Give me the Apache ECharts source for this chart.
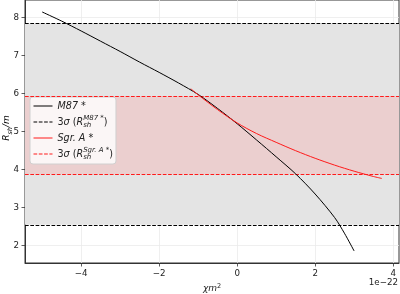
<!DOCTYPE html>
<html><head><meta charset="utf-8">
<script src="https://cdn.jsdelivr.net/npm/echarts@6/dist/echarts.min.js"></script>
<style>html,body{margin:0;padding:0;background:#fff}#c{width:400px;height:294px}</style>
</head><body><div id="c"></div>
<script>
// x values in units of 1e-22
const xTicks = [-4, -2, 0, 2, 4];
const yTicks = [2, 3, 4, 5, 6, 7, 8];
const m87X = [-5.0, -4.5, -4.0, -3.5, -3.0, -2.5, -2.0, -1.5, -1.0, -0.5, 0, 0.5, 1.0, 1.5, 2.0, 2.5, 2.75, 3.0];
const m87Y = [8.14, 7.90, 7.64, 7.37, 7.10, 6.82, 6.55, 6.27, 5.97, 5.60, 5.20, 4.77, 4.33, 3.88, 3.35, 2.73, 2.32, 1.85];
const sgrX = [-1.19, -1.0, -0.5, 0, 0.5, 1.0, 1.5, 2.0, 2.5, 3.0, 3.5, 3.71];
const sgrY = [6.12, 5.96, 5.57, 5.22, 4.94, 4.71, 4.49, 4.29, 4.11, 3.95, 3.81, 3.76];
const m87Band = [2.54, 7.84];
const sgrBand = [3.87, 5.92];
const xRange = [-5.44, 4.15];
const yRange = [1.535, 8.455];
const xExponent = '1e\u221222';

const FONT = 'DejaVu Sans';
const TXT = '#222';
const fmtMinus = v => String(v).replace('-', '\u2212');
const zip = (a, b) => a.map((v, i) => [v, b[i]]);

const richLegend = {
  i: {fontFamily: FONT, fontStyle: 'italic', fontSize: 9.6, lineHeight: 14, color: TXT},
  n: {fontFamily: FONT, fontSize: 9.6, lineHeight: 14, color: TXT},
  sub: {fontFamily: FONT, fontStyle: 'italic', fontSize: 7, lineHeight: 7, verticalAlign: 'bottom', width: 0, color: TXT},
  sup: {fontFamily: FONT, fontStyle: 'italic', fontSize: 7, lineHeight: 7, verticalAlign: 'top', color: TXT}
};
const legendText = {
  'M87*': '{i|M87 *}',
  'M87 3σ': '{n|3}{i|σ}{n| (}{i|R}{sub|sh}{sup|M87 *}{n|)}',
  'Sgr. A*': '{i|Sgr. A *}',
  'Sgr 3σ': '{n|3}{i|σ}{n| (}{i|R}{sub|sh}{sup|Sgr. A *}{n|)}'
};

const chart = echarts.init(document.getElementById('c'), null, {renderer: 'canvas'});
chart.setOption({
  animation: false,
  grid: {left: 25, right: 1, top: 0, bottom: 31, show: true, borderColor: '#333', borderWidth: 1,
    backgroundColor: 'transparent', containLabel: false, outerBoundsMode: 'none'},
  xAxis: {
    type: 'value', min: xRange[0], max: xRange[1],
    axisLine: {show: true, onZero: false, lineStyle: {color: '#333', width: 1}},
    axisTick: {show: true, customValues: xTicks, length: 3.5, lineStyle: {color: '#333', width: 0.8}},
    axisLabel: {customValues: xTicks, formatter: fmtMinus, fontFamily: FONT, fontSize: 8.7, color: TXT, margin: 6},
    splitLine: {show: true, lineStyle: {color: '#ebebeb', width: 0.8}},
    name: '{i|\u03c7m}{s|2}', nameLocation: 'middle', nameGap: 14,
    nameTextStyle: {rich: {
      i: {fontFamily: FONT, fontStyle: 'italic', fontSize: 9, lineHeight: 12, color: TXT},
      s: {fontFamily: FONT, fontSize: 6.5, lineHeight: 7, verticalAlign: 'top', color: TXT}
    }}
  },
  yAxis: {
    type: 'value', min: yRange[0], max: yRange[1],
    axisLine: {show: true, onZero: false, lineStyle: {color: '#333', width: 1}},
    axisTick: {show: true, customValues: yTicks, length: 3.5, lineStyle: {color: '#333', width: 0.8}},
    axisLabel: {customValues: yTicks, formatter: fmtMinus, fontFamily: FONT, fontSize: 8.7, color: TXT, margin: 6},
    splitLine: {show: true, lineStyle: {color: '#ebebeb', width: 0.8}}
  },
  legend: {
    orient: 'vertical', left: 30, top: 97,
    padding: [2, 3, 3, 3], itemGap: 2, itemWidth: 19, itemHeight: 14,
    itemStyle: {opacity: 0, borderWidth: 0},
    lineStyle: {width: 1},
    backgroundColor: 'rgba(255,255,255,0.8)', borderColor: '#d0d0d0', borderWidth: 1, borderRadius: 3,
    data: ['M87*', 'M87 3σ', 'Sgr. A*', 'Sgr 3σ'],
    formatter: name => legendText[name],
    textStyle: {rich: richLegend, lineHeight: 14},
    selectedMode: false
  },
  graphic: [{
    type: 'text', right: 2, top: 278,
    style: {text: xExponent, fontFamily: FONT, fontSize: 8.7, fill: TXT}
  }, {
    type: 'text', x: 7, y: 128, rotation: Math.PI / 2,
    style: {
      text: '{i|R}{s|sh}{i|/m}', align: 'center', verticalAlign: 'middle',
      rich: {
        i: {fontFamily: FONT, fontStyle: 'italic', fontSize: 9, lineHeight: 13, color: TXT},
        s: {fontFamily: FONT, fontStyle: 'italic', fontSize: 6.5, lineHeight: 7, verticalAlign: 'bottom', color: TXT}
      }
    }
  }],
  series: [
    {
      name: 'M87*', type: 'line', z: 5, symbol: 'none', smooth: 0.3,
      data: zip(m87X, m87Y),
      lineStyle: {color: '#000', width: 1}, itemStyle: {color: '#000'}
    },
    {
      name: 'M87 3σ', type: 'line', z: 3, symbol: 'none', data: [],
      lineStyle: {color: '#000', width: 1, type: [3.7, 1.6]}, itemStyle: {color: '#000'},
      markLine: {silent: true, symbol: ['none', 'none'], label: {show: false},
        lineStyle: {color: '#000', width: 1, type: [3.7, 1.6]},
        emphasis: {disabled: true},
        data: m87Band.map(v => ({yAxis: v}))},
      markArea: {silent: true, label: {show: false}, itemStyle: {color: '#e4e4e4'},
        data: [[{yAxis: m87Band[0]}, {yAxis: m87Band[1]}]]}
    },
    {
      name: 'Sgr. A*', type: 'line', z: 6, symbol: 'none', smooth: 0.3,
      data: zip(sgrX, sgrY),
      lineStyle: {color: '#ff1a1a', width: 1}, itemStyle: {color: '#ff1a1a'}
    },
    {
      name: 'Sgr 3σ', type: 'line', z: 4, symbol: 'none', data: [],
      lineStyle: {color: '#ff1a1a', width: 1, type: [3.7, 1.6]}, itemStyle: {color: '#ff1a1a'},
      markLine: {silent: true, symbol: ['none', 'none'], label: {show: false},
        lineStyle: {color: '#ff1a1a', width: 1, type: [3.7, 1.6]},
        emphasis: {disabled: true},
        data: sgrBand.map(v => ({yAxis: v}))},
      markArea: {silent: true, label: {show: false}, itemStyle: {color: '#ebcfcf'},
        data: [[{yAxis: sgrBand[0]}, {yAxis: sgrBand[1]}]]}
    }
  ]
});
</script></body></html>
